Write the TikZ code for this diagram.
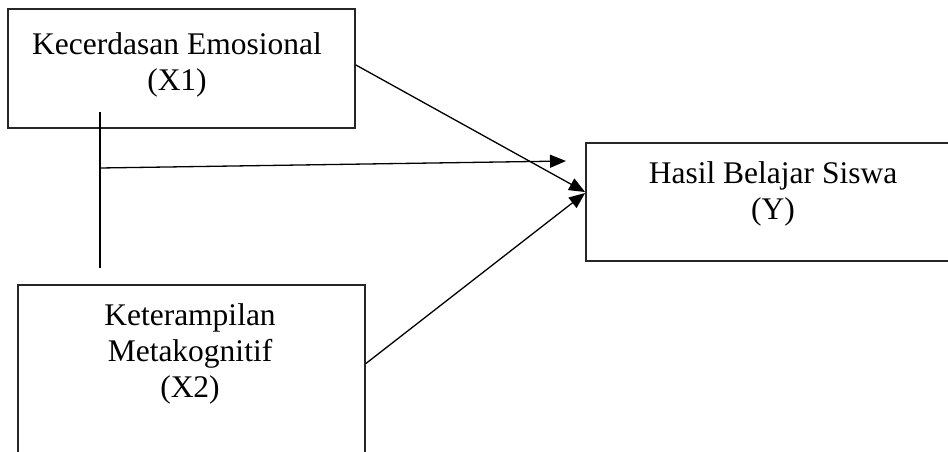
\documentclass[tikz,border=0pt]{standalone}
\usepackage{fontspec}
\setmainfont{Liberation Serif}
\usetikzlibrary{arrows.meta,calc}
\begin{document}
\begin{tikzpicture}[x=1pt,y=-1pt,
  box/.style={draw=black!85,line width=1.8pt,rectangle,inner sep=0pt},
  lbl/.style={align=center,font=\fontsize{31.5}{36}\selectfont,inner sep=0pt,anchor=base},
  conn/.style={line width=1.3pt,draw=black},
  arr/.style={conn,-{Triangle[length=16pt,width=13pt]}}]
\useasboundingbox (0,0) rectangle (948,452);
\clip (0,0) rectangle (948,452);
\node[box,minimum width=347pt,minimum height=119pt] (x1) at (181.5,68.5) {};
\node[box,minimum width=347pt,minimum height=185pt] (x2) at (191.5,377.5) {};
\node[box,minimum width=374pt,minimum height=118pt] (yb) at (773,202) {};
\node[lbl] (t1) at (177,91) {Kecerdasan Emosional\\(X1)};
\node[lbl] (t2) at (190,397) {Keterampilan\\Metakognitif\\(X2)};
\node[lbl] (t3) at (773,219) {Hasil Belajar Siswa\\(Y)};
\coordinate (vt) at (100,112);
\coordinate (vb) at (100,268);
\coordinate (hs) at (100,168);
\coordinate (he) at (566,161);
\draw[conn] (vt) -- (vb);
\draw[arr] (hs) -- (he);
\draw[arr] ($(x1.east)+(0,-3.5)$) -- ($(yb.west)+(0,-10)$);
\draw[arr] ($(x2.east)+(0,-14)$) -- ($(yb.west)+(0,-9)$);
\end{tikzpicture}
\end{document}
